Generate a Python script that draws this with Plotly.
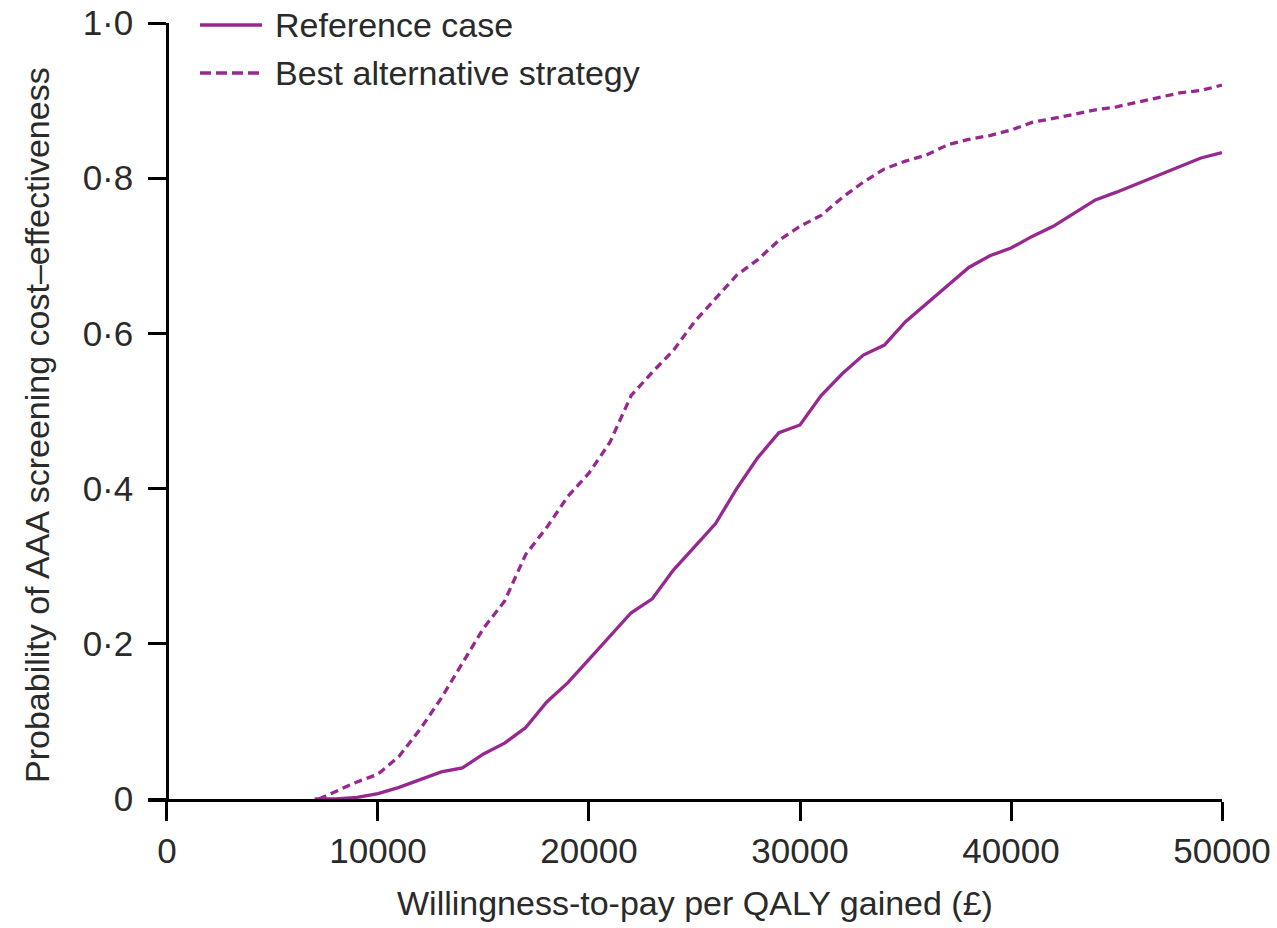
import plotly.graph_objects as go

# Willingness-to-pay (£) and probability values
wtp_ref = [7000, 8000, 9000, 10000, 11000, 12000, 13000, 14000, 15000, 16000,
           17000, 18000, 19000, 20000, 21000, 22000, 23000, 24000, 25000, 26000,
           27000, 28000, 29000, 30000, 31000, 32000, 33000, 34000, 35000, 36000,
           37000, 38000, 39000, 40000, 41000, 42000, 43000, 44000, 45000, 46000,
           47000, 48000, 49000, 50000]
prob_ref = [0.0, 0.0, 0.002, 0.007, 0.015, 0.025, 0.035, 0.04, 0.058, 0.072,
            0.092, 0.125, 0.15, 0.18, 0.21, 0.24, 0.258, 0.295, 0.325, 0.355,
            0.4, 0.44, 0.472, 0.482, 0.52, 0.548, 0.572, 0.585, 0.615, 0.638,
            0.662, 0.685, 0.7, 0.71, 0.725, 0.738, 0.755, 0.772, 0.782, 0.793,
            0.803, 0.815, 0.826, 0.833]

wtp_alt = [7200, 8000, 9000, 10000, 11000, 12000, 13000, 14000, 15000, 16000,
           17000, 18000, 19000, 20000, 21000, 22000, 23000, 24000, 25000, 26000,
           27000, 28000, 29000, 30000, 31000, 32000, 33000, 34000, 35000, 36000,
           37000, 38000, 39000, 40000, 41000, 42000, 43000, 44000, 45000, 46000,
           47000, 48000, 49000, 50000]
prob_alt = [0.0, 0.01, 0.022, 0.032, 0.055, 0.09, 0.13, 0.175, 0.22, 0.255,
            0.315, 0.35, 0.39, 0.42, 0.46, 0.52, 0.55, 0.578, 0.615, 0.645,
            0.675, 0.695, 0.72, 0.738, 0.752, 0.775, 0.795, 0.812, 0.822, 0.83,
            0.843, 0.85, 0.855, 0.862, 0.872, 0.877, 0.883, 0.888, 0.892, 0.898,
            0.903, 0.91, 0.913, 0.92]

series_names = ["Reference case", "Best alternative strategy"]

x_ticks = [0, 10000, 20000, 30000, 40000, 50000]
x_ticklabels = ["0", "10000", "20000", "30000", "40000", "50000"]
y_ticks = [0, 0.2, 0.4, 0.6, 0.8, 1.0]
y_ticklabels = ["0", "0·2", "0·4", "0·6", "0·8", "1·0"]

x_title = "Willingness-to-pay per QALY gained (£)"
y_title = "Probability of AAA screening cost–effectiveness"

COLOR = "#97288F"
FONT = "Liberation Sans, Arial, sans-serif"
TXT = "#2a2a2a"
TICK_FS = 35
TITLE_FS = 34
LEG_FS = 34
LW = 3.3
DASH = "8px,5px"

# layout geometry (pixels)
W, H = 1277, 928
L, R, T, B = 148, 55, 23, 129
PW, PH = W - L - R, H - T - B


def px_x(px):
    return (px - L) / PW


def px_y(py):
    return 1 - (py - T) / PH


fig = go.Figure()
fig.add_trace(go.Scatter(x=wtp_ref, y=prob_ref, mode="lines", name=series_names[0],
                         showlegend=False, line=dict(color=COLOR, width=LW)))
fig.add_trace(go.Scatter(x=wtp_alt, y=prob_alt, mode="lines", name=series_names[1],
                         showlegend=False, line=dict(color=COLOR, width=LW, dash=DASH)))

# manual legend (sample lines + labels) placed like the original
legend_rows = [(series_names[0], "solid", 25), (series_names[1], "11px,5px", 73)]
shapes = []
annotations = []
for name, dash, py in legend_rows:
    shapes.append(dict(type="line", xref="paper", yref="paper",
                       x0=px_x(200), x1=px_x(262), y0=px_y(py), y1=px_y(py),
                       line=dict(color=COLOR, width=LW, dash=dash)))
    annotations.append(dict(text=name, xref="paper", yref="paper",
                            x=px_x(273), y=px_y(py), xanchor="left", yanchor="middle",
                            showarrow=False, font=dict(size=LEG_FS, color=TXT)))

# axis titles
annotations.append(dict(text=x_title, xref="paper", yref="paper",
                        x=px_x(695), y=px_y(903), xanchor="center", yanchor="middle",
                        showarrow=False, font=dict(size=TITLE_FS, color=TXT)))
annotations.append(dict(text=y_title, xref="paper", yref="paper", textangle=-90,
                        x=px_x(37), y=px_y(425), xanchor="center", yanchor="middle",
                        showarrow=False, font=dict(size=TITLE_FS, color=TXT)))

XMIN = -900
fig.update_layout(
    width=W, height=H,
    margin=dict(l=L, r=R, t=T, b=B, autoexpand=False),
    paper_bgcolor="white", plot_bgcolor="white",
    font=dict(family=FONT, size=TICK_FS, color=TXT),
    showlegend=False,
    shapes=shapes,
    annotations=annotations,
    xaxis=dict(range=[XMIN, 50000], tickvals=x_ticks, ticktext=x_ticklabels,
               showline=True, linecolor="black", linewidth=2.5,
               ticks="outside", ticklen=19, tickwidth=2.5, tickcolor="black",
               showgrid=False, zeroline=False, automargin=False,
               tickfont=dict(size=TICK_FS, color=TXT)),
    yaxis=dict(range=[0, 1.0], tickvals=y_ticks, ticktext=y_ticklabels,
               anchor="free", position=(0 - XMIN) / (50000 - XMIN),
               showline=True, linecolor="black", linewidth=2.5,
               ticks="outside", ticklen=18, tickwidth=2.5, tickcolor="black",
               ticklabelstandoff=8,
               showgrid=False, zeroline=False, automargin=False,
               tickfont=dict(size=TICK_FS, color=TXT)),
)

fig.write_html("out.html")
